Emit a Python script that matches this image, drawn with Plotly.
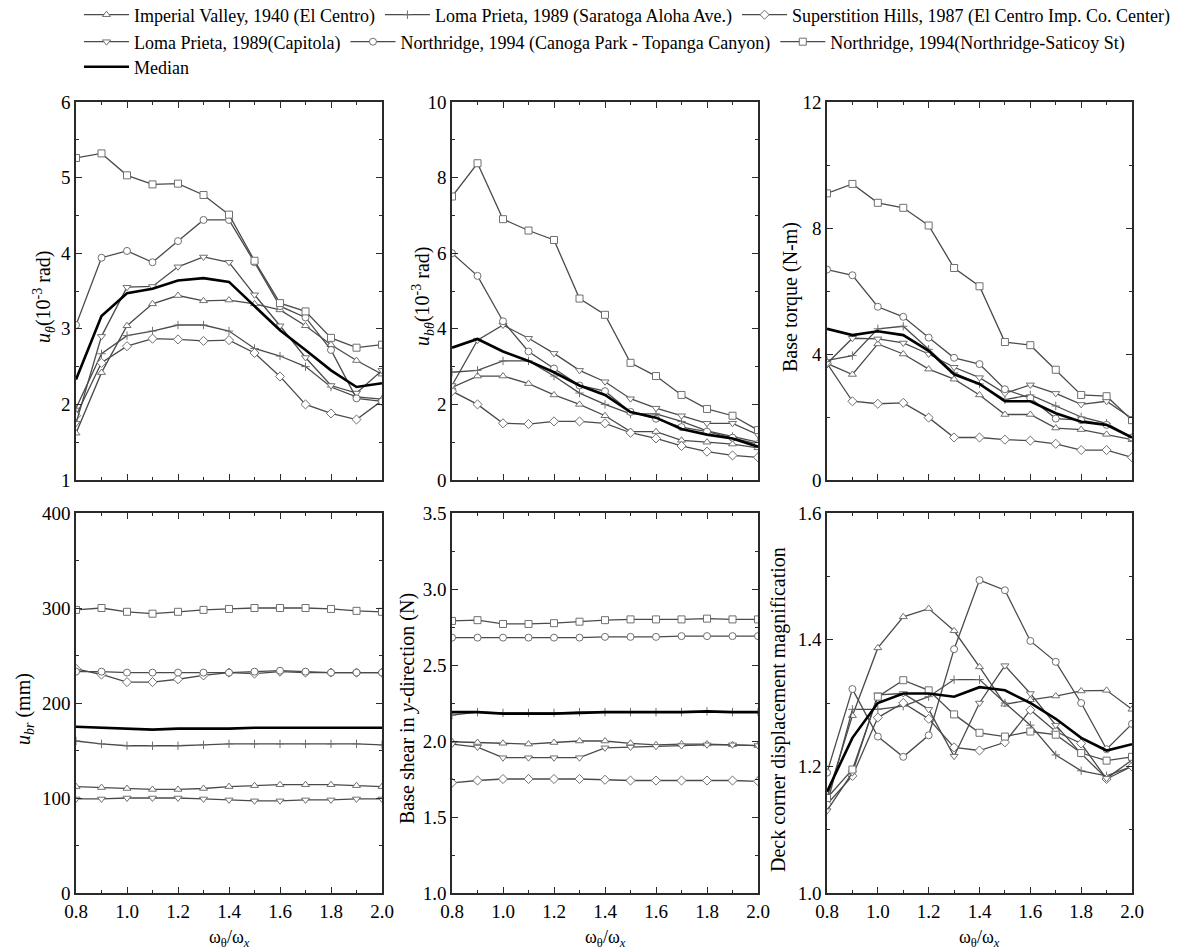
import plotly.graph_objects as go

W, H = 1191, 952

x_ratio = [0.8, 0.9, 1.0, 1.1, 1.2, 1.3, 1.4, 1.5, 1.6, 1.7, 1.8, 1.9, 2.0]

series_names = [
    "Imperial Valley, 1940 (El Centro)",
    "Loma Prieta, 1989 (Saratoga Aloha Ave.)",
    "Superstition Hills, 1987 (El Centro Imp. Co. Center)",
    "Loma Prieta, 1989(Capitola)",
    "Northridge, 1994 (Canoga Park - Topanga Canyon)",
    "Northridge, 1994(Northridge-Saticoy St)",
]
median_name = "Median"

# Panel 1: u_theta (10^-3 rad)
ut_imperial = [1.62, 2.42, 3.04, 3.33, 3.44, 3.37, 3.38, 3.33, 3.25, 3.04, 2.79, 2.58, 2.40]
ut_saratoga = [1.95, 2.67, 2.91, 2.97, 3.05, 3.05, 2.97, 2.74, 2.64, 2.50, 2.23, 2.10, 2.07]
ut_superst = [1.85, 2.55, 2.77, 2.87, 2.86, 2.84, 2.85, 2.68, 2.37, 2.00, 1.88, 1.80, 2.05]
ut_capitola = [1.75, 2.90, 3.55, 3.56, 3.82, 3.95, 3.88, 3.45, 3.04, 2.62, 2.25, 2.15, 2.45]
ut_canoga = [3.05, 3.94, 4.03, 3.88, 4.16, 4.44, 4.44, 3.88, 3.30, 3.15, 2.72, 2.08, 2.04]
ut_saticoy = [5.26, 5.32, 5.03, 4.91, 4.92, 4.77, 4.51, 3.90, 3.34, 3.23, 2.88, 2.75, 2.79]
ut_median = [2.33, 3.17, 3.47, 3.53, 3.64, 3.67, 3.62, 3.30, 2.98, 2.72, 2.45, 2.23, 2.28]

# Panel 2: u_btheta (10^-3 rad)
ubt_imperial = [2.45, 2.75, 2.75, 2.55, 2.25, 2.00, 1.70, 1.28, 1.28, 1.05, 1.00, 0.95, 0.85]
ubt_saratoga = [2.85, 2.90, 3.15, 3.15, 2.75, 2.30, 2.00, 1.75, 1.75, 1.55, 1.30, 1.15, 1.00]
ubt_superst = [2.35, 2.00, 1.50, 1.48, 1.55, 1.55, 1.50, 1.25, 1.10, 0.90, 0.75, 0.65, 0.60]
ubt_capitola = [2.50, 3.70, 4.10, 3.75, 3.35, 2.90, 2.60, 2.15, 1.90, 1.70, 1.50, 1.50, 1.20]
ubt_canoga = [6.00, 5.40, 4.20, 3.40, 2.95, 2.50, 2.35, 1.80, 1.62, 1.40, 1.28, 1.12, 0.95]
ubt_saticoy = [7.50, 8.38, 6.90, 6.60, 6.35, 4.80, 4.37, 3.10, 2.75, 2.25, 1.88, 1.70, 1.32]
ubt_median = [3.50, 3.73, 3.40, 3.15, 2.85, 2.50, 2.25, 1.80, 1.65, 1.35, 1.20, 1.10, 0.88]

# Panel 3: Base torque (N-m)
bt_imperial = [3.70, 3.35, 4.32, 4.00, 3.52, 3.20, 2.70, 2.08, 2.08, 1.65, 1.60, 1.45, 1.28]
bt_saratoga = [3.80, 3.95, 4.80, 4.88, 4.15, 3.40, 3.05, 2.55, 2.70, 2.35, 2.00, 1.80, 1.35]
bt_superst = [3.70, 2.50, 2.42, 2.45, 1.98, 1.35, 1.35, 1.28, 1.25, 1.15, 0.95, 0.95, 0.72]
bt_capitola = [3.70, 4.50, 4.48, 4.35, 4.00, 3.58, 3.25, 2.75, 3.02, 2.75, 2.40, 2.50, 1.95]
bt_canoga = [6.68, 6.50, 5.50, 5.18, 4.52, 3.88, 3.68, 2.88, 2.60, 1.95, 1.90, 1.75, 1.35]
bt_saticoy = [9.10, 9.40, 8.80, 8.64, 8.08, 6.73, 6.15, 4.38, 4.28, 3.50, 2.70, 2.66, 1.90]
bt_median = [4.80, 4.60, 4.72, 4.60, 4.10, 3.35, 3.05, 2.50, 2.50, 2.12, 1.85, 1.75, 1.35]

# Panel 4: u_br (mm)
ubr_imperial = [112, 111, 110, 109, 109, 110, 112, 113, 114, 114, 114, 113, 112]
ubr_saratoga = [160, 157, 155, 155, 155, 156, 157, 157, 157, 157, 157, 157, 156]
ubr_superst = [236, 230, 222, 222, 225, 229, 232, 231, 233, 232, 232, 232, 232]
ubr_capitola = [99, 99, 100, 100, 100, 99, 98, 97, 97, 98, 98, 99, 99]
ubr_canoga = [233, 233, 232, 232, 232, 232, 232, 233, 234, 233, 232, 232, 232]
ubr_saticoy = [298, 300, 296, 294, 296, 298, 299, 300, 300, 300, 299, 297, 296]
ubr_median = [175, 174, 173, 172, 173, 173, 173, 174, 174, 174, 174, 174, 174]

# Panel 5: Base shear in y-direction (N)
bs_imperial = [1.995, 1.99, 1.985, 1.98, 1.99, 2.00, 2.00, 1.985, 1.975, 1.98, 1.98, 1.975, 1.97]
bs_saratoga = [2.17, 2.19, 2.185, 2.185, 2.185, 2.19, 2.19, 2.19, 2.19, 2.19, 2.195, 2.19, 2.19]
bs_superst = [1.725, 1.74, 1.75, 1.75, 1.75, 1.75, 1.745, 1.74, 1.74, 1.74, 1.74, 1.74, 1.735]
bs_capitola = [1.98, 1.96, 1.89, 1.89, 1.89, 1.89, 1.955, 1.96, 1.965, 1.97, 1.975, 1.975, 1.97]
bs_canoga = [2.68, 2.68, 2.68, 2.68, 2.68, 2.68, 2.685, 2.685, 2.685, 2.69, 2.69, 2.69, 2.69]
bs_saticoy = [2.79, 2.795, 2.77, 2.77, 2.775, 2.785, 2.795, 2.80, 2.80, 2.80, 2.805, 2.80, 2.80]
bs_median = [2.19, 2.19, 2.18, 2.18, 2.18, 2.185, 2.19, 2.19, 2.19, 2.19, 2.195, 2.19, 2.19]

# Panel 6: Deck corner displacement magnification
dm_imperial = [1.15, 1.28, 1.387, 1.436, 1.449, 1.414, 1.357, 1.298, 1.305, 1.311, 1.319, 1.32, 1.29]
dm_saratoga = [1.14, 1.29, 1.29, 1.295, 1.31, 1.337, 1.337, 1.30, 1.265, 1.218, 1.193, 1.185, 1.20]
dm_superst = [1.14, 1.185, 1.277, 1.30, 1.275, 1.23, 1.225, 1.238, 1.289, 1.255, 1.236, 1.18, 1.20]
dm_capitola = [1.13, 1.19, 1.313, 1.315, 1.29, 1.216, 1.30, 1.359, 1.315, 1.265, 1.22, 1.181, 1.21]
dm_canoga = [1.19, 1.322, 1.247, 1.215, 1.249, 1.385, 1.494, 1.478, 1.398, 1.365, 1.30, 1.227, 1.267]
dm_saticoy = [1.15, 1.195, 1.31, 1.336, 1.32, 1.282, 1.253, 1.247, 1.255, 1.25, 1.221, 1.209, 1.215]
dm_median = [1.16, 1.245, 1.30, 1.315, 1.315, 1.31, 1.325, 1.32, 1.30, 1.275, 1.245, 1.225, 1.235]

panels = [
    [ut_imperial, ut_saratoga, ut_superst, ut_capitola, ut_canoga, ut_saticoy, ut_median],
    [ubt_imperial, ubt_saratoga, ubt_superst, ubt_capitola, ubt_canoga, ubt_saticoy, ubt_median],
    [bt_imperial, bt_saratoga, bt_superst, bt_capitola, bt_canoga, bt_saticoy, bt_median],
    [ubr_imperial, ubr_saratoga, ubr_superst, ubr_capitola, ubr_canoga, ubr_saticoy, ubr_median],
    [bs_imperial, bs_saratoga, bs_superst, bs_capitola, bs_canoga, bs_saticoy, bs_median],
    [dm_imperial, dm_saratoga, dm_superst, dm_capitola, dm_canoga, dm_saticoy, dm_median],
]

y_ranges = [[1, 6], [0, 10], [0, 12], [0, 400], [1.0, 3.5], [1.0, 1.6]]
y_dtick = [1, 2, 4, 100, 0.5, 0.2]
y_minor = [0.5, 1, 2, 50, 0.25, 0.1]
y_fmt = ["d", "d", "d", "d", ".1f", ".1f"]

y_titles = [
    "<i>u</i><sub><i>θ</i></sub>(10<sup>-3</sup> rad)",
    "<i>u</i><sub><i>bθ</i></sub>(10<sup>-3</sup> rad)",
    "Base torque (N-m)",
    "<i>u</i><sub><i>br</i></sub> (mm)",
    "Base shear in <i>y</i>-direction (N)",
    "Deck corner displacement magnification",
]
x_title = "ω<sub>θ</sub>/ω<sub><i>x</i></sub>"

symbols = ["triangle-up", "cross-thin", "diamond", "triangle-down", "circle", "square"]
legend_ids = ["legend", "legend", "legend", "legend2", "legend2", "legend2"]

FONT = "Liberation Serif"
LINE_GRAY = "#4a4a4a"
MARK_GRAY = "#707070"

# Layout geometry (pixels)
col_px = [(76, 382), (452, 758), (827, 1132)]
row_px = [(102, 480), (513, 893)]
ytitle_px = [44, 423, 790, 24, 407, 778]

fig = go.Figure()

for p in range(6):
    axn = "" if p == 0 else str(p + 1)
    data = panels[p]
    for s in range(6):
        sym = symbols[s]
        is_cross = sym == "cross-thin"
        fig.add_trace(go.Scatter(
            x=x_ratio, y=data[s], mode="lines+markers",
            name=series_names[s],
            legend=legend_ids[s],
            showlegend=(p == 0),
            line=dict(color=LINE_GRAY, width=1.3),
            marker=dict(symbol=sym, size=6 if is_cross else 7,
                        color="white" if not is_cross else MARK_GRAY,
                        line=dict(color=MARK_GRAY, width=1)),
            xaxis="x" + axn, yaxis="y" + axn,
        ))
    fig.add_trace(go.Scatter(
        x=x_ratio, y=data[6], mode="lines", name=median_name,
        legend="legend3", showlegend=(p == 0),
        line=dict(color="black", width=2.6),
        xaxis="x" + axn, yaxis="y" + axn,
    ))

layout = dict(
    width=W, height=H,
    margin=dict(l=0, r=0, t=0, b=0, autoexpand=False),
    paper_bgcolor="white", plot_bgcolor="white",
    font=dict(family=FONT, size=18, color="black"),
)

axis_common = dict(
    showline=True, linecolor="#2a2a2a", linewidth=1.5, mirror="ticks",
    ticks="inside", ticklen=6, tickwidth=1.2, tickcolor="#2a2a2a",
    showgrid=False, zeroline=False, automargin=False,
    tickfont=dict(family=FONT, size=19, color="black"),
)

annotations = []
for p in range(6):
    r, c = divmod(p, 3)
    x0, x1 = col_px[c]
    y0, y1 = row_px[r]
    axn = "" if p == 0 else str(p + 1)
    layout["xaxis" + axn] = dict(
        axis_common,
        domain=[x0 / W, x1 / W], anchor="y" + axn,
        range=[0.8, 2.0], tick0=0.8, dtick=0.2, tickformat=".1f",
        showticklabels=(r == 1),
        minor=dict(ticks="inside", ticklen=3.5, tickcolor="#2a2a2a", dtick=0.1, tick0=0.8, showgrid=False),
    )
    layout["yaxis" + axn] = dict(
        axis_common,
        domain=[1 - y1 / H, 1 - y0 / H], anchor="x" + axn,
        range=y_ranges[p], tick0=y_ranges[p][0], dtick=y_dtick[p], tickformat=y_fmt[p],
        minor=dict(ticks="inside", ticklen=3.5, tickcolor="#2a2a2a", dtick=y_minor[p], tick0=y_ranges[p][0], showgrid=False),
    )
    annotations.append(dict(
        text=y_titles[p], xref="paper", yref="paper",
        x=ytitle_px[p] / W, y=1 - ((y0 + y1) / 2 + 6) / H,
        xanchor="center", yanchor="middle", textangle=-90, showarrow=False,
        font=dict(family=FONT, size=20, color="black"),
    ))
    if r == 1:
        annotations.append(dict(
            text=x_title, xref="paper", yref="paper",
            x=(x0 + x1) / 2 / W, y=1 - 938 / H,
            xanchor="center", yanchor="middle", showarrow=False,
            font=dict(family=FONT, size=18, color="black"),
        ))

leg_common = dict(
    orientation="h", xref="paper", yref="paper", xanchor="left", yanchor="middle",
    bgcolor="rgba(0,0,0,0)", borderwidth=0, itemsizing="trace",
    font=dict(family=FONT, size=18, color="black"), tracegroupgap=0, itemwidth=45,
)
layout["legend"] = dict(leg_common, x=79 / W, y=1 - 15 / H)
layout["legend2"] = dict(leg_common, x=79 / W, y=1 - 42 / H)
layout["legend3"] = dict(leg_common, x=79 / W, y=1 - 67 / H)
layout["annotations"] = annotations

fig.update_layout(**layout)
fig.write_html("out.html")
